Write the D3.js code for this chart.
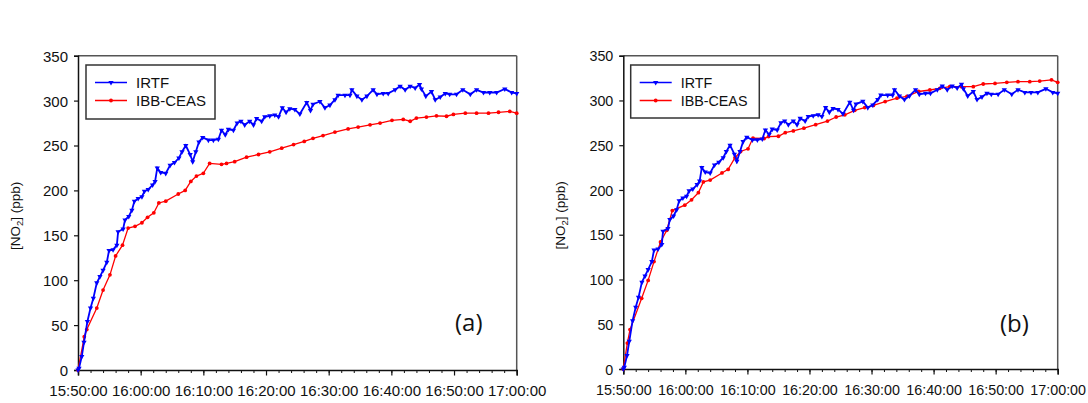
<!DOCTYPE html>
<html>
<head>
<meta charset="utf-8">
<script src="https://cdn.jsdelivr.net/npm/d3@7/dist/d3.min.js"></script>
<style>
  body { margin: 0; background: #fff; }
  svg { display: block; }
  .tick text { font-family: "Liberation Sans", Arial, sans-serif; fill: #111; }
</style>
</head>
<body>
<svg id="chart" width="1088" height="403"></svg>
<script>
// ---- DATA (minutes after 15:50:00, ppb) ----
const seriesNames = ["IRTF", "IBB-CEAS"];
const panelLabels = ["(a)", "(b)"];
const xTickLabels = ["15:50:00","16:00:00","16:10:00","16:20:00","16:30:00","16:40:00","16:50:00","17:00:00"];
const yTickValues = [0, 50, 100, 150, 200, 250, 300, 350];

const irtfMin = [0,0.16,0.6,0.96,1.5,2.0,2.45,3.0,3.5,4.0,4.6,4.95,5.6,6.2,6.4,7.2,7.5,8.1,8.6,9.0,9.6,10.2,10.6,11.2,11.9,12.3,12.65,13.2,14.0,14.7,15.4,16.1,16.6,17.2,17.9,18.3,18.8,19.3,19.9,20.8,21.6,22.4,22.9,23.5,24.0,24.8,25.4,26.0,26.6,27.4,28.0,28.5,29.3,29.8,30.6,31.4,32.0,32.6,33.2,33.8,34.6,35.4,36.5,37.1,37.5,38.6,39.4,40.2,41.0,41.5,42.6,43.4,43.7,44.5,45.3,46.1,47.1,47.7,48.7,49.5,50.6,51.4,52.2,53.0,53.8,54.5,54.8,55.5,56.4,57.0,57.8,58.6,59.3,60.4,61.4,62.6,63.6,64.7,65.7,66.8,68.1,69.2,70];
const irtfPpb = [0,2,15,31,54,69,80,97,104,111,120,133,134,139,154,157,167,171,178,188,191,193,199,201,206,210,225,220,219,228,231,236,243,250,240,232,243,254,259,256,256,257,267,262,268,267,275,277,273,277,273,280,277,282,283,284,282,292,287,291,290,285,298,289,296,299,292,295,301,306,306,306,312,305,301,305,312,307,308,308,312,316,312,316,314,318,313,305,310,301,304,308,307,307,312,307,312,309,309,309,313,309,308];

const ceasAMin = [0,1.0,1.4,3.0,4.0,5.1,6.0,7.1,8.0,9.1,10.2,11.1,12.1,12.9,14.0,16.0,17.1,18.0,18.9,20.0,21.0,22.9,23.7,25.0,26.9,28.8,30.6,32.5,34.4,36.1,37.5,39.1,41.0,43.1,44.7,46.6,48.2,50.1,51.9,53.0,54.0,55.6,57.2,58.8,59.9,61.8,63.6,65.5,67.1,68.9,70];
const ceasAPpb = [0,37,45,69,89,106,127,139,158,160,164,170,175,186,188,196,200,210,216,219,230,229,230,232,237,240,243,247,251,254.5,258,261,265,268.5,270.5,273,275,278,279,277,280.5,281.7,283,282.6,284.6,286,286,286,287,288,286];

const ceasBMin = [0,0.65,1.08,2.96,4.0,4.95,6.0,7.0,7.9,9.9,11.0,12.1,12.9,14.0,15.9,16.9,18.0,18.9,20.1,20.9,22.7,23.4,25.0,26.1,27.4,29.1,31.0,32.9,34.3,35.7,37.3,38.9,40.3,42.2,44.1,45.7,47.6,49.4,51.0,52.6,54.5,56.4,58.0,59.9,61.8,63.6,65.5,67.1,69.0,70];
const ceasBPpb = [0,29,44,79,99,120,142,155,177,183,189,197,209,211,219,223,236,243,246,258,257.5,259.6,260,264,266,269,273,277,281.5,284,289,292,294.5,298.7,302.5,304.5,310,311.7,313.6,315.4,315.4,315.4,318.4,319,320.3,321,321,321.7,323,320.3];

// ---- helpers ----
const t0 = new Date(2000, 0, 1, 15, 50, 0);
const toDate = m => new Date(t0.getTime() + m * 60000);
const zip = (ts, vs) => ts.map((t, i) => ({ t: toDate(t), v: vs[i] }));

const irtf = zip(irtfMin, irtfPpb);
const ceasA = zip(ceasAMin, ceasAPpb);
const ceasB = zip(ceasBMin, ceasBPpb);

const panels = [
  { left: 78, right: 516.7, top: 55.7, bottom: 370, ylabX: 20, tickFont: 15,
    legend: { x: 86, y: 65, w: 129, h: 54 }, label: panelLabels[0], labX: 455, labY: 331, red: ceasA },
  { left: 623.3, right: 1057.7, top: 55.7, bottom: 369, ylabX: 565, tickFont: 14.3,
    legend: { x: 630.7, y: 65, w: 128.6, h: 53 }, label: panelLabels[1], labX: 1000, labY: 332, red: ceasB }
];

const svg = d3.select("#chart");
const blue = "#0000ff", red = "#ff0000";
const fontFam = '"Liberation Sans", Arial, sans-serif';

panels.forEach(p => {
  const x = d3.scaleTime().domain([toDate(0), toDate(70)]).range([p.left, p.right]);
  const y = d3.scaleLinear().domain([0, 350]).range([p.bottom, p.top]);
  const g = svg.append("g");

  // frame: top and right
  g.append("line").attr("x1", p.left).attr("x2", p.right).attr("y1", p.top).attr("y2", p.top)
    .attr("stroke", "#555").attr("stroke-width", 1.5);
  g.append("line").attr("x1", p.right).attr("x2", p.right).attr("y1", p.top).attr("y2", p.bottom)
    .attr("stroke", "#555").attr("stroke-width", 1.5);

  // minor x ticks every 2 min
  const minorVals = d3.range(0, 71, 2).map(toDate);
  const minorAx = d3.axisBottom(x).tickValues(minorVals).tickSize(3).tickFormat("");
  g.append("g").attr("transform", `translate(0,${p.bottom})`).call(minorAx)
    .call(s => s.select(".domain").remove())
    .call(s => s.selectAll(".tick line").attr("stroke", "#111").attr("stroke-width", 1));

  // major x ticks
  const majorVals = d3.range(0, 71, 10).map(toDate);
  const xAx = d3.axisBottom(x).tickValues(majorVals).tickSize(5.5)
    .tickFormat((d, i) => xTickLabels[i]);
  g.append("g").attr("transform", `translate(0,${p.bottom})`).call(xAx)
    .call(s => s.select(".domain").attr("stroke", "#111").attr("stroke-width", 1.5))
    .call(s => s.selectAll(".tick line").attr("stroke", "#111").attr("stroke-width", 1.2))
    .call(s => s.selectAll(".tick text").attr("font-size", p.tickFont).attr("font-family", fontFam)
      .attr("dy", 0).attr("y", 25.5));

  // y axis
  const yAx = d3.axisLeft(y).tickValues(yTickValues).tickSize(4).tickFormat(d3.format("d"));
  g.append("g").attr("transform", `translate(${p.left},0)`).call(yAx)
    .call(s => s.select(".domain").attr("stroke", "#111").attr("stroke-width", 1.5))
    .call(s => s.selectAll(".tick line").attr("stroke", "#111").attr("stroke-width", 1.2))
    .call(s => s.selectAll(".tick text").attr("font-size", p.tickFont).attr("font-family", fontFam)
      .attr("x", -10).attr("dy", "0.36em"));

  // y label
  const yl = g.append("text")
    .attr("transform", `translate(${p.ylabX},${(p.top + p.bottom) / 2 + 3}) rotate(-90)`)
    .attr("text-anchor", "middle").attr("font-family", fontFam).attr("font-size", 13.5).attr("fill", "#111");
  yl.append("tspan").text("[NO");
  yl.append("tspan").text("2").attr("font-size", 9.5).attr("dy", 3);
  yl.append("tspan").text("] (ppb)").attr("dy", -3);

  const line = d3.line().x(d => x(d.t)).y(d => y(d.v));

  // red series
  g.append("path").datum(p.red).attr("d", line).attr("fill", "none")
    .attr("stroke", red).attr("stroke-width", 1.3);
  g.selectAll(".rm").data(p.red).enter().append("circle")
    .attr("cx", d => x(d.t)).attr("cy", d => y(d.v)).attr("r", 1.9).attr("fill", red);

  // blue series
  g.append("path").datum(irtf).attr("d", line).attr("fill", "none")
    .attr("stroke", blue).attr("stroke-width", 1.8);
  const tri = d3.symbol().type(d3.symbolTriangle).size(12);
  g.selectAll(".bm").data(irtf).enter().append("path")
    .attr("d", tri).attr("fill", blue)
    .attr("transform", d => `translate(${x(d.t)},${y(d.v)}) rotate(180)`);

  // legend
  const L = p.legend;
  const lg = g.append("g");
  lg.append("rect").attr("x", L.x).attr("y", L.y).attr("width", L.w).attr("height", L.h)
    .attr("fill", "#fff").attr("stroke", "#333").attr("stroke-width", 1.5);
  const rows = [{ name: seriesNames[0], c: blue, dy: 17.5 }, { name: seriesNames[1], c: red, dy: 35.5 }];
  rows.forEach((r, i) => {
    const yy = L.y + r.dy;
    lg.append("line").attr("x1", L.x + 9).attr("x2", L.x + 41).attr("y1", yy).attr("y2", yy)
      .attr("stroke", r.c).attr("stroke-width", 1.5);
    if (i === 0) {
      lg.append("path").attr("d", tri).attr("fill", r.c)
        .attr("transform", `translate(${L.x + 25},${yy}) rotate(180)`);
    } else {
      lg.append("circle").attr("cx", L.x + 25).attr("cy", yy).attr("r", 1.9).attr("fill", r.c);
    }
    lg.append("text").attr("x", L.x + 50).attr("y", yy).attr("dy", "0.36em")
      .attr("font-family", fontFam).attr("font-size", p.tickFont).attr("fill", "#111").text(r.name);
  });

  // panel label
  g.append("text").attr("x", p.labX).attr("y", p.labY)
    .attr("font-family", '"Open Sans", "Noto Sans", sans-serif').attr("font-size", 24)
    .attr("fill", "#111").text(p.label);
});
</script>
</body>
</html>
